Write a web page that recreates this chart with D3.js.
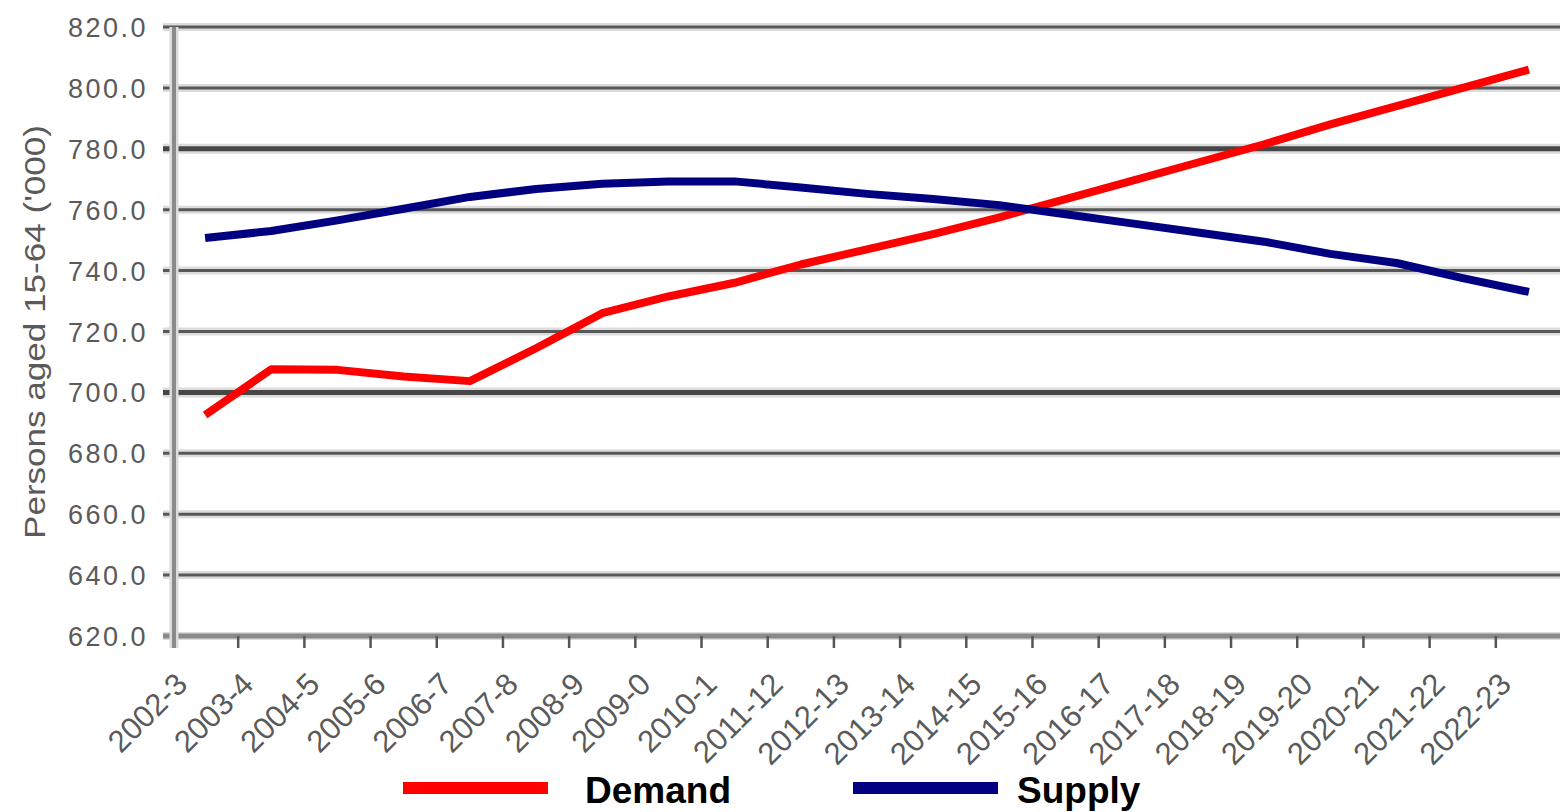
<!DOCTYPE html>
<html>
<head>
<meta charset="utf-8">
<script src="https://cdn.jsdelivr.net/npm/d3@7"></script>
<style>
  body { margin: 0; background: #fff; }
  svg { display: block; font-family: "Liberation Sans", Arial, sans-serif; }
</style>
</head>
<body>
<div id="chart"></div>
<script>
// Data
const years = ["2002-3", "2003-4", "2004-5", "2005-6", "2006-7", "2007-8", "2008-9",
  "2009-0", "2010-1", "2011-12", "2012-13", "2013-14", "2014-15", "2015-16", "2016-17",
  "2017-18", "2018-19", "2019-20", "2020-21", "2021-22", "2022-23"];
const demand = [692.6, 707.6, 707.4, 705.2, 703.7, 714.5, 726.0, 731.5, 736.0, 742.0, 747.0,
  752.0, 757.5, 763.5, 769.5, 775.5, 781.5, 788.0, 794.0, 800.0, 806.0];
const supply = [750.7, 753.0, 756.5, 760.3, 764.2, 766.8, 768.5, 769.3, 769.3, 767.3, 765.2,
  763.5, 761.5, 758.5, 755.5, 752.5, 749.5, 745.5, 742.5, 737.5, 733.0];
const yTicks = [620, 640, 660, 680, 700, 720, 740, 760, 780, 800, 820];
const seriesNames = ["Demand", "Supply"];
const seriesColors = ["#ff0000", "#000080"];

const svgWidth = 1560;
const svgHeight = 812;

const svg = d3.select("#chart")
  .append("svg")
  .attr("width", svgWidth)
  .attr("height", svgHeight);

// Scales
const x = d3.scaleBand()
  .domain(years)
  .range([172, 1562])
  .paddingInner(0)
  .paddingOuter(0);

const y = d3.scaleLinear()
  .domain([620, 820])
  .range([636, 27]);

const xMid = d => x(d) + x.bandwidth() / 2;

// Gridlines (with a soft halo, like the scaled original)
const grid = svg.append("g");
grid.selectAll("line.halo")
  .data(yTicks)
  .enter()
  .append("line")
  .attr("class", "halo")
  .attr("x1", 163).attr("x2", svgWidth)
  .attr("y1", d => y(d)).attr("y2", d => y(d))
  .attr("stroke", "#dcdcdc")
  .attr("stroke-width", d => (d === 700 || d === 780) ? 10 : 8);

grid.selectAll("line.core")
  .data(yTicks.filter(d => d !== 620))
  .enter()
  .append("line")
  .attr("class", "core")
  .attr("x1", 163).attr("x2", svgWidth)
  .attr("y1", d => y(d)).attr("y2", d => y(d))
  .attr("stroke", d => (d === 700 || d === 780) ? "#474747" : "#585858")
  .attr("stroke-width", d => (d === 700 || d === 780) ? 5 : 3);

// X axis line
svg.append("line")
  .attr("x1", 163).attr("x2", svgWidth)
  .attr("y1", y(620)).attr("y2", y(620))
  .attr("stroke", "#8a8a8a")
  .attr("stroke-width", 5);

// X axis ticks at category boundaries
const boundaries = years.map(d => x(d)).concat([x(years[years.length - 1]) + x.bandwidth()]);
svg.append("g")
  .selectAll("line")
  .data(boundaries.slice(1))
  .enter()
  .append("line")
  .attr("x1", d => d).attr("x2", d => d)
  .attr("y1", y(620)).attr("y2", y(620) + 12)
  .attr("stroke", "#555")
  .attr("stroke-width", 2.5);

// Y axis line
svg.append("line")
  .attr("x1", 174).attr("x2", 174)
  .attr("y1", y(820)).attr("y2", y(620) + 12)
  .attr("stroke", "#dcdcdc")
  .attr("stroke-width", 9);
svg.append("line")
  .attr("x1", 174).attr("x2", 174)
  .attr("y1", y(820)).attr("y2", y(620) + 12)
  .attr("stroke", "#8a8a8a")
  .attr("stroke-width", 4);

// Y tick labels
svg.append("g")
  .selectAll("text")
  .data(yTicks)
  .enter()
  .append("text")
  .attr("x", 148)
  .attr("y", d => y(d) + 10)
  .attr("text-anchor", "end")
  .attr("font-size", 27)
  .attr("letter-spacing", 2.5)
  .attr("fill", "#5a5a5a")
  .text(d => d.toFixed(1));

// Y axis title
svg.append("text")
  .attr("transform", `translate(45, ${332})rotate(-90)`)
  .attr("text-anchor", "middle")
  .attr("font-size", 30)
  .attr("fill", "#5a5a5a")
  .attr("textLength", 414)
  .attr("lengthAdjust", "spacingAndGlyphs")
  .text("Persons aged 15-64 ('000)");

// X tick labels
svg.append("g")
  .selectAll("text")
  .data(years)
  .enter()
  .append("text")
  .attr("transform", d => `translate(${xMid(d) - 16}, 686)rotate(-45)`)
  .attr("text-anchor", "end")
  .attr("font-size", 31)
  .attr("fill", "#5a5a5a")
  .text(d => d);

// Lines
const line = d3.line()
  .x((d, i) => xMid(years[i]))
  .y(d => y(d));

[demand, supply].forEach((values, i) => {
  svg.append("path")
    .datum(values)
    .attr("fill", "none")
    .attr("stroke", seriesColors[i])
    .attr("stroke-width", 8)
    .attr("stroke-linejoin", "round")
    .attr("d", line);
});

// Legend
const legendX = [403, 853];
const legendTextX = [585, 1017];
const legend = svg.append("g");
seriesNames.forEach((name, i) => {
  legend.append("rect")
    .attr("x", legendX[i]).attr("y", 782)
    .attr("width", 145).attr("height", 12)
    .attr("fill", seriesColors[i]);
  legend.append("text")
    .attr("x", legendTextX[i])
    .attr("y", 803)
    .attr("font-size", 37)
    .attr("font-weight", "bold")
    .attr("fill", "#000")
    .text(name);
});
</script>
</body>
</html>
